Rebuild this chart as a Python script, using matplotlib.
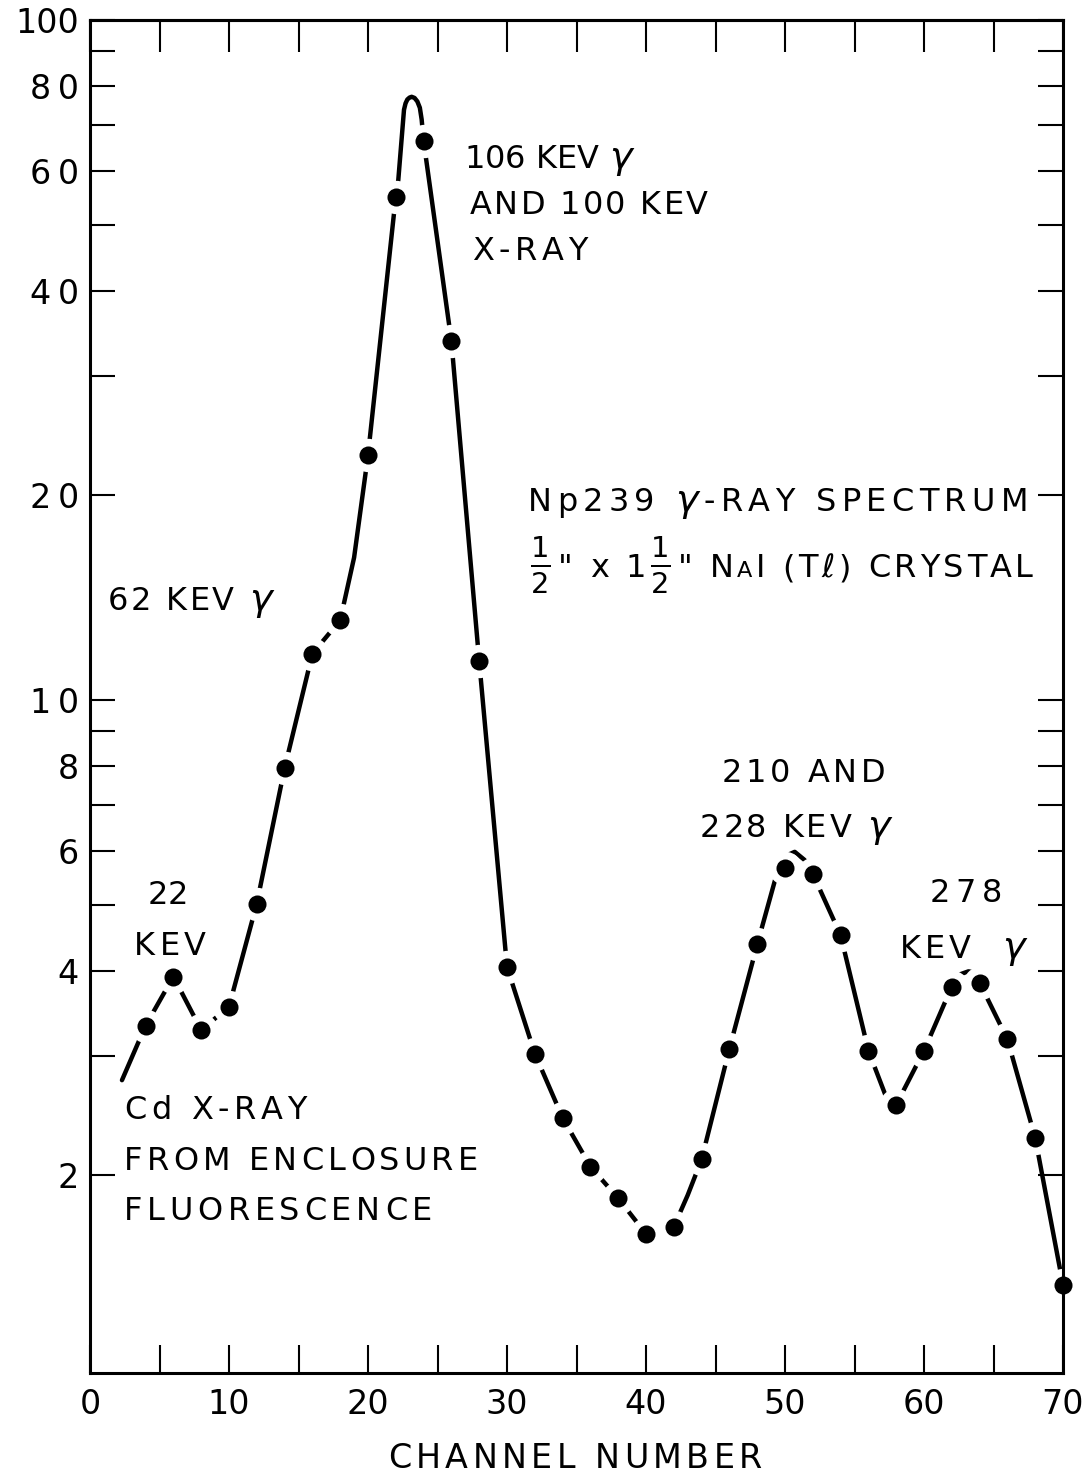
import matplotlib
matplotlib.use("Agg")
import matplotlib.pyplot as plt
from matplotlib.font_manager import FontProperties
from matplotlib.textpath import TextToPath
from matplotlib.transforms import IdentityTransform
from matplotlib.ticker import FixedLocator, FixedFormatter, NullLocator

W, H, DPI = 1091, 1474, 100

# Np239 gamma-ray spectrum, 1/2" x 1 1/2" NaI(Tl) crystal: counts per channel
channel = [4, 6, 8, 10, 12, 14, 16, 18, 20, 22, 24, 26, 28, 30, 32, 34, 36,
           38, 40, 42, 44, 46, 48, 50, 52, 54, 56, 58, 60, 62, 64, 66, 68, 70]
counts = [3.32, 3.92, 3.27, 3.54, 5.02, 7.94, 11.7, 13.1, 22.9, 55.0, 66.4,
          33.7, 11.4, 4.05, 3.02, 2.43, 2.06, 1.85, 1.64, 1.68, 2.11, 3.07,
          4.37, 5.67, 5.55, 4.51, 3.05, 2.54, 3.05, 3.79, 3.84, 3.17, 2.27, 1.38]

# Hand-fitted curve through the measurements, including the peak tops
fit_channel = [2.3, 4, 6, 8, 10, 12, 14, 16, 18, 19, 20, 22, 22.18, 22.59,
               22.70, 22.83, 22.99, 23.14, 23.35, 23.55, 23.73, 23.86, 24,
               26, 28, 30, 32, 34, 36, 38, 40, 42, 43, 44, 46, 48, 49.3, 50,
               50.3, 50.7, 51.4, 52, 54, 56, 57.3, 58, 60, 62, 62.6, 63.2,
               63.7, 64, 66, 68, 70]
fit_counts = [2.76, 3.32, 3.92, 3.27, 3.54, 5.02, 7.94, 11.7, 13.1, 16.2,
              22.9, 55.0, 58.2, 73.8, 75.4, 76.4, 76.9, 77.1, 76.8, 75.9,
              74.3, 71.4, 66.4, 33.7, 11.4, 4.05, 3.02, 2.43, 2.06, 1.85,
              1.64, 1.68, 1.87, 2.11, 3.07, 4.37, 5.45, 5.67, 5.93, 5.98,
              5.82, 5.55, 4.51, 3.05, 2.60, 2.54, 3.05, 3.79, 3.95, 3.99,
              3.97, 3.84, 3.17, 2.27, 1.38]

x_ticks = list(range(0, 71, 5))
x_labels = ["0", "", "10", "", "20", "", "30", "", "40", "", "50", "", "60",
            "", "70"]
y_ticks = [2, 3, 4, 5, 6, 7, 8, 9, 10, 20, 30, 40, 50, 60, 70, 80, 90, 100]
y_labels = ["2", "", "4", "", "6", "", "8", "", "1\u20090", "2\u20090", "",
            "4\u20090", "", "6\u20090", "", "8\u20090", "", "100"]

FONT = "DejaVu Sans"

fig = plt.figure(figsize=(W / DPI, H / DPI), dpi=DPI)
ax = fig.add_axes([90 / W, 1 - 1373 / H, (1063 - 90) / W, (1373 - 20) / H])
ax.set_yscale("log")
ax.set_xlim(0, 70)
ax.set_ylim(1.024, 100)

for sp in ax.spines.values():
    sp.set_linewidth(2.2)

ax.xaxis.set_major_locator(FixedLocator(x_ticks))
ax.xaxis.set_major_formatter(FixedFormatter(x_labels))
ax.yaxis.set_major_locator(FixedLocator(y_ticks))
ax.yaxis.set_major_formatter(FixedFormatter(y_labels))
ax.yaxis.set_minor_locator(NullLocator())
ax.xaxis.set_minor_locator(NullLocator())
ax.tick_params(axis="x", direction="in", length=20, width=1.5, bottom=True,
               top=False, pad=11, labelsize=24)
ax.tick_params(axis="y", direction="in", length=18, width=1.5, left=True,
               right=True, pad=8, labelsize=24)
for lab in ax.get_xticklabels() + ax.get_yticklabels():
    lab.set_family(FONT)

top = ax.secondary_xaxis("top")
top.set_xticks(x_ticks)
top.tick_params(direction="in", length=23, width=1.5, labeltop=False)
top.spines["top"].set_linewidth(2.2)

# spectrum curve, white halos that break it at each point, then the points
ax.plot(fit_channel, fit_counts, color="black", lw=3.2,
        solid_capstyle="round", solid_joinstyle="round", zorder=2)
ax.plot(channel, counts, ls="none", marker="o", ms=24, mfc="white",
        mec="white", mew=0, zorder=2.3, clip_on=False)
ax.plot(channel, counts, ls="none", marker="o", ms=13, color="black",
        mew=0, zorder=3, clip_on=False)

# ---- widely tracked lettering -------------------------------------------
_ttp = TextToPath()


def _advance(s, fp, ismath):
    if ismath:
        w = _ttp.get_text_width_height_descent(s, fp, ismath=True)[0]
    else:
        w = (_ttp.get_text_width_height_descent("|" + s + "|", fp, False)[0]
             - _ttp.get_text_width_height_descent("||", fp, False)[0])
    return w * DPI / 72.0


def lettered(x, y, pieces, size=23, span=None, ha="left"):
    """Place text one glyph at a time; x, y in image pixels (top-left origin),
    y is the baseline; span stretches letter spacing to a given width."""
    glyphs = []
    for p in pieces:
        if isinstance(p, str):
            p = (p, 1.0)
        s, f = p
        fp = FontProperties(family=FONT, size=size * f)
        if s.startswith("$"):
            glyphs.append((s, fp, _advance(s, fp, True)))
        else:
            for ch in s:
                glyphs.append((ch, fp, _advance(ch, fp, False)))
    natural = sum(g[2] for g in glyphs)
    track = 0.0
    if span is not None and len(glyphs) > 1:
        track = (span - natural) / (len(glyphs) - 1)
    total = natural + track * (len(glyphs) - 1)
    x0 = x - total / 2 if ha == "center" else x
    for s, fp, w in glyphs:
        if s.strip():
            fig.text(x0, H - y, s, fontproperties=fp,
                     transform=IdentityTransform(), ha="left", va="baseline")
        x0 += w + track


G = (r"$\gamma$", 1.2)
HALF = (r"$\frac{1}{2}$", 1.3)

lettered(464, 168, ["106 KEV ", G], span=168)
lettered(470, 214, ["AND 100 KEV"], span=238)
lettered(472, 260, ["X-RAY"], span=116)

lettered(528, 511, ["Np239 ", G, "-RAY SPECTRUM"], span=500)
lettered(530, 577, [HALF, '"', " x 1", HALF, '" N', ("A", 0.7), "I (T",
                    "\u2113", ") CRYSTAL"], span=503)

lettered(108, 610, ["62 KEV ", G], span=164)
lettered(722, 782, ["210 AND"], span=163)
lettered(700, 837, ["228 KEV ", G], span=190)
lettered(148, 904, ["22"], span=40)
lettered(134, 955, ["KEV"], span=72)
lettered(930, 902, ["278"], span=72)
lettered(900, 958, ["KEV  ", G], span=125)

lettered(124, 1119, ["Cd X-RAY"], span=183)
lettered(124, 1170, ["FROM ENCLOSURE"], span=354)
lettered(124, 1220, ["FLUORESCENCE"], span=308)

lettered(575, 1468, ["CHANNEL NUMBER"], size=24, span=374, ha="center")

fig.savefig("out.png", dpi=DPI)
